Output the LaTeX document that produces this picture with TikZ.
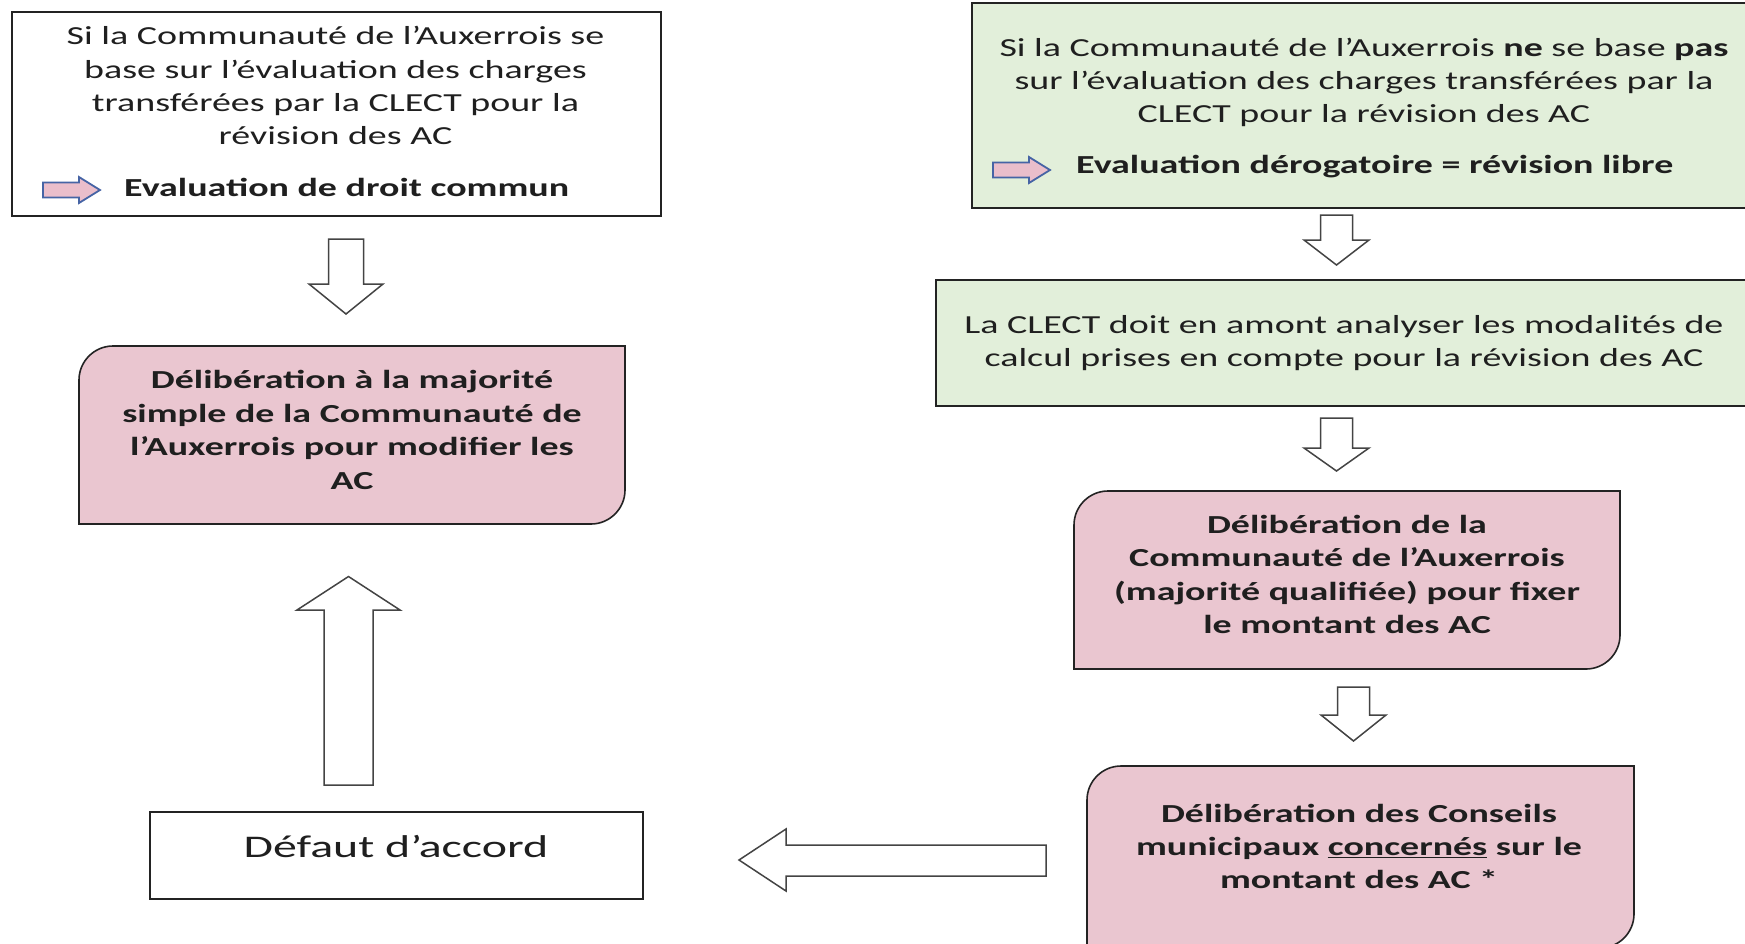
\documentclass[tikz,border=0pt]{standalone}
\usepackage{fontspec}
\setmainfont{Carlito}[FakeStretch=1.46]
\newfontfamily\bigfont{Carlito}[FakeStretch=1.52]
\definecolor{boxgreen}{RGB}{226,239,218}
\definecolor{boxpink}{RGB}{234,198,208}
\definecolor{edgecol}{RGB}{35,35,35}
\definecolor{smallpink}{RGB}{234,190,203}
\definecolor{smallblue}{RGB}{70,100,165}
\tikzset{
  boxline/.style={draw=edgecol, line width=1.6pt},
  txt/.style={align=center, inner sep=0pt, text=black!88, font=\fontsize{26}{33.4}\selectfont},
  btxt/.style={align=center, inner sep=0pt, text=black!88, font=\fontsize{26}{33.4}\selectfont\bfseries},
  blockarrow/.style={draw=edgecol!85, fill=white, line width=1.5pt, line join=miter},
  smallarrow/.style={draw=smallblue, fill=smallpink, line width=1.8pt, line join=miter}
}
% vertical down arrow: cx, top, headbase, tip, shaft half, head half
\newcommand\vdown[6]{%
  \path[blockarrow] (#1-#5,#2) -- (#1+#5,#2) -- (#1+#5,#3) -- (#1+#6,#3) -- (#1,#4)
    -- (#1-#6,#3) -- (#1-#5,#3) -- cycle;}
% small right arrow: left x, center y
\newcommand\smallright[2]{%
  \path[smallarrow] (#1,#2-7.5) -- (#1+36,#2-7.5) -- (#1+36,#2-13) -- (#1+57,#2) -- (#1+36,#2+13)
    -- (#1+36,#2+7.5) -- (#1,#2+7.5) -- cycle;}
% box with rounded top-left and bottom-right corners: x1, top, x2, bottom, r
\newcommand\diagbox[5]{%
  \path[boxline, fill=boxpink] (#1,#4) -- (#1,#2+#5) .. controls (#1,#2+0.45*#5) and (#1+0.45*#5,#2) .. (#1+#5,#2)
    -- (#3,#2) -- (#3,#4-#5) .. controls (#3,#4-0.45*#5) and (#3-0.45*#5,#4) .. (#3-#5,#4) -- cycle;}
\begin{document}
\begin{tikzpicture}[x=1pt,y=-1pt]
\useasboundingbox (0,0) rectangle (1745,943);
\fill[white] (0,0) rectangle (1745,943);

% ---- left column
\draw[boxline, fill=white] (12,12) rectangle (661,216);
\node[txt] (t1) at (335.5,85.7) {Si la Communauté de l’Auxerrois se\\base sur l’évaluation des charges\\transférées par la CLECT pour la\\révision des AC};
\node[btxt, anchor=west] (e1) at (124,187) {Evaluation de droit commun};
\smallright{43}{190}

\vdown{346}{239}{284}{314}{17.5}{37}

\diagbox{79}{346}{625}{524}{34}
\node[btxt] (l2) at (352,430) {Délibération à la majorité\\simple de la Communauté de\\l’Auxerrois pour modifier les\\AC};

% up arrow
\path[blockarrow] (324,785) -- (373,785) -- (373,610) -- (400,610) -- (348.5,576.5) -- (297,610) -- (324,610) -- cycle;

\draw[boxline, fill=white] (150,812) rectangle (643,899);
\node[txt, font=\bigfont\fontsize{31.5}{40}\selectfont] (def) at (396,846) {Défaut d’accord};

% left arrow
\path[blockarrow] (1046,845) -- (1046,876) -- (786,876) -- (786,891) -- (739,860) -- (786,829) -- (786,845) -- cycle;

% ---- right column
\draw[boxline, fill=boxgreen] (972,3) rectangle (1760,208);
\node[txt] (r1) at (1364,82.4) {Si la Communauté de l’Auxerrois \textbf{ne} se base \textbf{pas}\\sur l’évaluation des charges transférées par la\\CLECT pour la révision des AC};
\node[btxt, anchor=west] (e2) at (1076,167) {Evaluation dérogatoire = révision libre};
\smallright{993}{170}

\vdown{1336.5}{215}{240}{265}{16}{32.5}

\draw[boxline, fill=boxgreen] (936,280) rectangle (1760,406);
\node[txt] (r2) at (1344,343) {La CLECT doit en amont analyser les modalités de\\calcul prises en compte pour la révision des AC};

\vdown{1336.5}{418}{448}{471}{16}{32.5}

\diagbox{1074}{491}{1620}{669}{34}
\node[btxt] (r3) at (1347,574.5) {Délibération de la\\Communauté de l’Auxerrois\\(majorité qualifiée) pour fixer\\le montant des AC};

\vdown{1353.5}{687}{715}{741}{16}{32.5}

\diagbox{1087}{766}{1634}{948}{34}
\node[btxt] (r4) at (1359,846.5) {Délibération des Conseils\\municipaux \underline{concernés} sur le\\montant des AC *};
\end{tikzpicture}
\end{document}
